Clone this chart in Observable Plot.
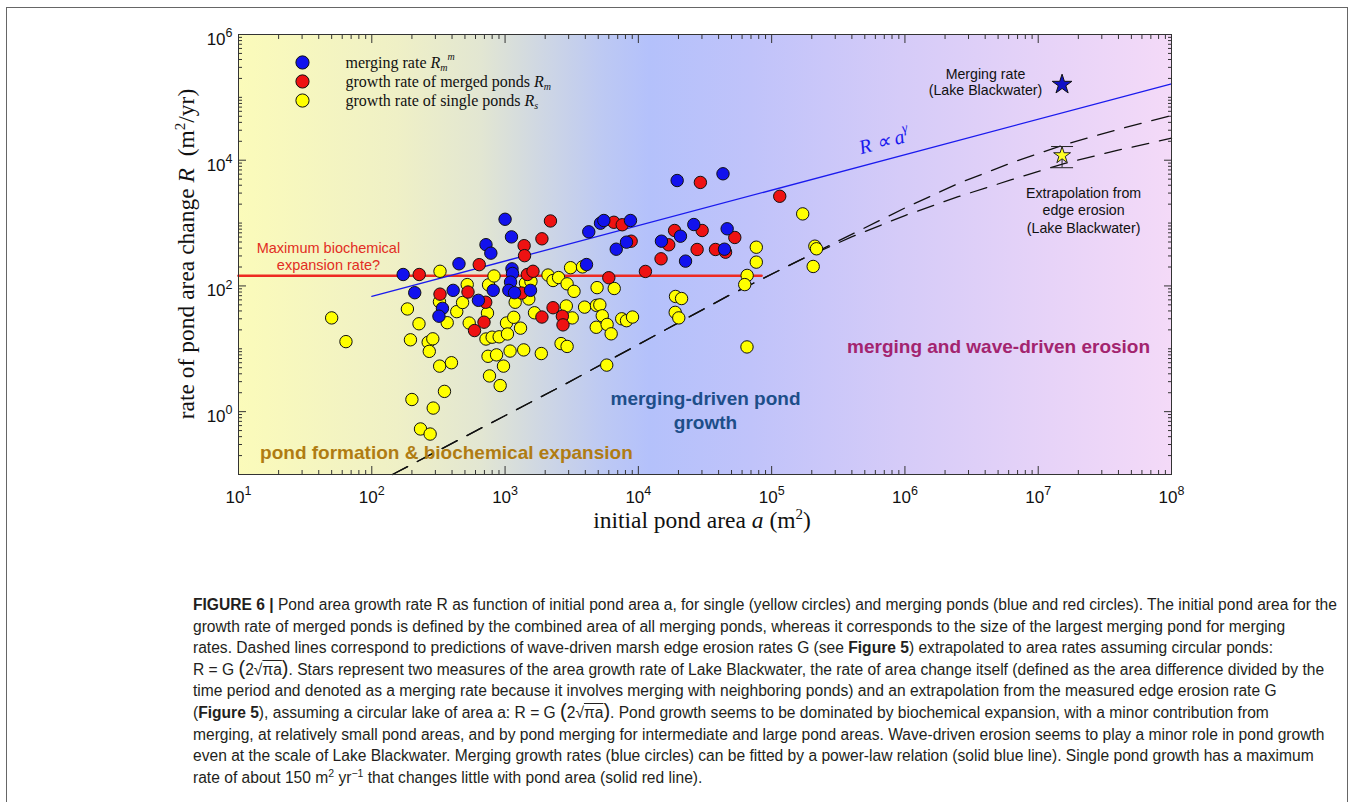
<!DOCTYPE html>
<html><head><meta charset="utf-8">
<script src="https://cdn.jsdelivr.net/npm/d3@7"></script>
<script src="https://cdn.jsdelivr.net/npm/@observablehq/plot@0.6"></script>
<style>
body{margin:0;background:#fff;}
#wrap{position:relative;width:1357px;height:802px;overflow:hidden;background:#fff;}
#border{position:absolute;left:6px;top:7px;width:1342px;height:820px;border:1.5px solid #666;box-sizing:border-box;}
#chart{position:absolute;left:0;top:0;}
#caption{position:absolute;left:193px;top:594px;font-family:"Liberation Sans",Arial,sans-serif;font-size:15.6px;line-height:21.6px;color:#231f20;white-space:nowrap;}
#caption div{height:21.6px;}
#caption .ov{text-decoration:overline;}
#caption .bp{font-size:20px;line-height:0;}
#caption sup{font-size:10.5px;line-height:0;}
</style></head><body>
<div id="wrap"><div id="border"></div><div id="chart"></div>
<div id="caption">
<div><b>FIGURE 6 |</b> Pond area growth rate R as function of initial pond area a, for single (yellow circles) and merging ponds (blue and red circles). The initial pond area for the</div>
<div>growth rate of merged ponds is defined by the combined area of all merging ponds, whereas it corresponds to the size of the largest merging pond for merging</div>
<div>rates. Dashed lines correspond to predictions of wave-driven marsh edge erosion rates G (see <b>Figure 5</b>) extrapolated to area rates assuming circular ponds:</div>
<div>R = G <span class="bp">(</span>2√<span class="ov">πa</span><span class="bp">)</span>. Stars represent two measures of the area growth rate of Lake Blackwater, the rate of area change itself (defined as the area difference divided by the</div>
<div>time period and denoted as a merging rate because it involves merging with neighboring ponds) and an extrapolation from the measured edge erosion rate G</div>
<div>(<b>Figure 5</b>), assuming a circular lake of area a: R = G <span class="bp">(</span>2√<span class="ov">πa</span><span class="bp">)</span>. Pond growth seems to be dominated by biochemical expansion, with a minor contribution from</div>
<div>merging, at relatively small pond areas, and by pond merging for intermediate and large pond areas. Wave-driven erosion seems to play a minor role in pond growth</div>
<div>even at the scale of Lake Blackwater. Merging growth rates (blue circles) can be fitted by a power-law relation (solid blue line). Single pond growth has a maximum</div>
<div>rate of about 150 m<sup>2</sup> yr<sup>−1</sup> that changes little with pond area (solid red line).</div>
</div>
</div>
<script>
// ---------- data ----------
const blueA = [172,210,451,719,782,408,339,319,631,815,1000,1117,1127,1137,1099,1067,1177,1552,4246,5200,5508,8730,4083,6823,8147,14900,20700,19550,43150,26060,22590,44260,46360];
const blueR = [152,78,225,453,332,85,44,33,59,85,1150,603,187,158,115,85,78,85,726,995,1099,1099,219,384,497,515,618,4753,6081,948,248,384,811];

const redA = [227,640,325,527,716,695,590,2190,1890,1390,1400,1470,1620,1330,1890,2290,2690,2720,6000,11300,6550,7570,8830,14800,16900,18700,30100,27600,37900,45100,52900,29200,115000];
const redR = [152,218,74,80,55,26.5,19.5,1080,562,437,303,152,171,77,32,45,33,24,135,170,1030,940,515,270,451,762,762,380,380,344,590,4430,2670];

const yellowA = [50,64,325,185,226,195,265,287,270,368,434,480,520,538,738,752,826,719,800,903,1025,1042,1162,1306,1191,1507,1422,1564,1663,2100,2290,2520,2920,3290,3100,3810,4900,6590,2880,3190,3950,4850,5140,5360,4830,5830,6250,7500,8150,9040,19000,21100,18900,20100,76700,76700,65500,62800,65300,171000,211000,217000,205000,5790,2630,2920,1870,1380,1090,745,863,973,764,919,323,396,200,351,289,232,274,322];
const yellowR = [31,13,171,43,25,13.9,12.7,14.4,9.1,26,39,54.5,105,25.7,37,104,144,14.3,15.3,15.5,25.7,17.2,31.7,21.3,55,62,111,118,37.4,149,122,136,108,82,195,201,94,91,48,31,46,49,50,33.5,22,24.4,17.3,30,28,32,68,63,38,31,413,239,147,105,10.7,1400,429,390,204,5.5,12.1,10.9,8.4,9.6,9.2,7.6,8.0,5.3,3.7,2.6,5.3,6.0,1.56,2.1,1.14,0.53,0.44,56];

// power-law fit (blue) and maximum biochemical rate (red)
const fitA = [100, 1e8];
const fitR = [68, 164000];
const maxRateA = [10, 84000];
const maxRateR = [145, 145];

// wave-driven erosion predictions (dashed)
const dashUpperA = [143, 2700, 47400, 158500, 398000, 1e6, 2.51e6, 6.31e6, 1.585e7, 3.98e7, 1e8];
const dashUpperR = [0.1, 2.6, 70, 251, 661, 1738, 4266, 9120, 17800, 30900, 51300];
const dashLowerA = [143, 2700, 47400, 158500, 398000, 1e6, 2.51e6, 6.31e6, 1.585e7, 3.98e7, 1e8];
const dashLowerR = [0.1, 2.6, 70, 251, 603, 1318, 2630, 4900, 8910, 14450, 22400];

// Lake Blackwater stars
const starA = 1.51e7;
const mergeStarR = 1.6e5;
const erosionStarR = 1.19e4;
const erosionErr = [7.6e3, 1.65e4];

// legend
const legendNames = ["merging rate", "growth rate of merged ponds", "growth rate of single ponds"];
const legendSub = ["m", "m", "s"];
const legendSup = ["m", "", ""];
const legendColors = ["#1212ee", "#ee1212", "#ffff00"];
const legendDotA = 30.2;
const legendTextA = 63.5;
const legendR = [3.59e5, 1.79e5, 8.9e4];

// annotations
const maxNote = "Maximum biochemical\nexpansion rate?"; const maxNoteA = 47.3, maxNoteR = 299;
const mergeNote = "Merging rate\n(Lake Blackwater)"; const mergeNoteA = 4.02e6, mergeNoteR = 1.79e5;
const erosionNote = "Extrapolation from\nedge erosion\n(Lake Blackwater)"; const erosionNoteA = 2.19e7, erosionNoteR = 1644;
const fitNote = "R ∝ a"; const fitNoteSup = "γ"; const fitNoteA = 7.0e5, fitNoteR = 1.99e4;
const regionLabels = ["pond formation & biochemical expansion", "merging-driven pond\ngrowth", "merging and wave-driven erosion"];
const regionA = [363, 31900, 5.04e6];
const regionR = [0.232, 1.08, 11.3];
const regionColors = ["#b07c12", "#1d4e89", "#a3246f"];

// ticks
const xTickValues = [10, 100, 1000, 10000, 1e5, 1e6, 1e7, 1e8];
const yTickValues = [1, 100, 1e4, 1e6];
const yOtherDecades = [0.1, 10, 1000, 1e5];
const xMinor = d3.range(1, 8).flatMap(e => d3.range(2, 10).map(m => m * 10 ** e));
const yMinor = d3.range(-1, 6).flatMap(e => d3.range(2, 10).map(m => +(m * 10 ** e).toPrecision(3)));

// ---------- build ----------
const rows = (A, R) => A.map((a, i) => ({a, R: R[i]}));
const supFmt = d => "10^" + Math.round(Math.log10(d));
const capSymbol = {draw(ctx, size) { const r = Math.sqrt(size / Math.PI); ctx.moveTo(-r, 0); ctx.lineTo(r, 0); }};
const sans = "'Liberation Sans', Arial, sans-serif";
const serif = "'Liberation Serif', 'Times New Roman', serif";
const tickStroke = "#333";

const chart = Plot.plot({
  width: 1357, height: 545,
  marginLeft: 238, marginRight: 186, marginTop: 34, marginBottom: 71,
  x: {type: "log", domain: [10, 1e8], label: null},
  y: {type: "log", domain: [0.1, 1e6], label: null},
  style: {background: "transparent", fontFamily: sans, fontSize: "13px", color: "#111"},
  marks: [
    Plot.frame({fill: "url(#bg)", stroke: "none"}),
    // ticks (inward, all sides)
    Plot.axisX(xTickValues, {anchor: "bottom", tickSize: -8, tickFormat: () => "", stroke: tickStroke, label: null}),
    Plot.axisX(xMinor, {anchor: "bottom", tickSize: -4, tickFormat: () => "", stroke: tickStroke, label: null}),
    Plot.axisX(xTickValues, {anchor: "top", tickSize: -8, tickFormat: () => "", stroke: tickStroke, label: null}),
    Plot.axisX(xMinor, {anchor: "top", tickSize: -4, tickFormat: () => "", stroke: tickStroke, label: null}),
    Plot.axisY(yTickValues, {anchor: "left", tickSize: -8, tickFormat: () => "", stroke: tickStroke, label: null}),
    Plot.axisY(yOtherDecades.concat(yMinor), {anchor: "left", tickSize: -4, tickFormat: () => "", stroke: tickStroke, label: null}),
    Plot.axisY(yTickValues, {anchor: "right", tickSize: -8, tickFormat: () => "", stroke: tickStroke, label: null}),
    Plot.axisY(yOtherDecades.concat(yMinor), {anchor: "right", tickSize: -4, tickFormat: () => "", stroke: tickStroke, label: null}),
    // tick labels
    Plot.axisX(xTickValues, {anchor: "bottom", tickSize: 0, tickPadding: 16, tickFormat: supFmt, fontSize: 17, label: null}),
    Plot.axisY(yTickValues, {anchor: "left", tickSize: 0, tickPadding: 6, tickFormat: supFmt, fontSize: 17, dy: 5, label: null}),
    // lines
    Plot.line(rows(dashUpperA, dashUpperR), {x: "a", y: "R", stroke: "#111", strokeWidth: 1.3, strokeDasharray: "17,11"}),
    Plot.line(rows(dashLowerA, dashLowerR), {x: "a", y: "R", stroke: "#111", strokeWidth: 1.3, strokeDasharray: "17,11"}),
    Plot.line(rows(maxRateA, maxRateR), {x: "a", y: "R", stroke: "#ee2a22", strokeWidth: 2.6}),
    Plot.line(rows(fitA, fitR), {x: "a", y: "R", stroke: "#1a1aee", strokeWidth: 1.3}),
    // region labels
    ...regionLabels.map((t, i) => Plot.text([t], {x: [regionA[i]], y: [regionR[i]], text: d => d, fill: regionColors[i], fontSize: 19, fontWeight: "bold", lineHeight: 1.26})),
    // points
    Plot.dot(rows(yellowA, yellowR), {x: "a", y: "R", r: 6.2, fill: "#ffff00", stroke: "#111", strokeWidth: 1}),
    Plot.dot(rows(redA, redR), {x: "a", y: "R", r: 6.2, fill: "#ee1212", stroke: "#111", strokeWidth: 1}),
    Plot.dot(rows(blueA, blueR), {x: "a", y: "R", r: 6.2, fill: "#1212ee", stroke: "#111", strokeWidth: 1}),
    // stars and error bar
    Plot.ruleX([starA], {x: d => d, y1: erosionErr[0], y2: erosionErr[1], stroke: "#222", strokeWidth: 1}),
    Plot.dot(erosionErr, {x: () => starA, y: d => d, symbol: capSymbol, r: 11, stroke: "#222", strokeWidth: 1, fill: "none"}),
    Plot.dot([erosionStarR], {x: () => starA, y: d => d, symbol: "star", r: 5.3, fill: "#ffff22", stroke: "#222", strokeWidth: 1}),
    Plot.dot([mergeStarR], {x: () => starA, y: d => d, symbol: "star", r: 6.2, fill: "#1010c8", stroke: "#111", strokeWidth: 1}),
    // annotations
    Plot.text([maxNote], {x: [maxNoteA], y: [maxNoteR], text: d => d, fill: "#e22d23", fontSize: 14.5, lineHeight: 1.2}),
    Plot.text([mergeNote], {x: [mergeNoteA], y: [mergeNoteR], text: d => d, fill: "#111", fontSize: 14.2, lineHeight: 1.15}),
    Plot.text([erosionNote], {x: [erosionNoteA], y: [erosionNoteR], text: d => d, fill: "#111", fontSize: 14.2, lineHeight: 1.24}),
    Plot.text([fitNote], {x: [fitNoteA], y: [fitNoteR], text: d => d, fill: "#1a1aee", fontSize: 20, fontFamily: serif, fontStyle: "italic", rotate: -15}),
    // legend
    Plot.dot(legendR, {x: () => legendDotA, y: d => d, r: 6.6, fill: (d, i) => legendColors[i], stroke: "#111", strokeWidth: 1}),
    Plot.text(legendNames, {x: () => legendTextA, y: (d, i) => legendR[i], text: d => d, textAnchor: "start", fontFamily: serif, fontSize: 16, fill: "#111"}),
    Plot.frame({stroke: "#333", strokeWidth: 1})
  ]
});

document.getElementById("chart").appendChild(chart);
const svg = d3.select(chart);

// background gradient
const grad = svg.insert("defs", ":first-child").append("linearGradient").attr("id", "bg")
  .attr("x1", 0).attr("x2", 1).attr("y1", 0).attr("y2", 0);
[[0, "#fbfbba"], [0.17, "#eff0c6"], [0.26, "#e2e6d2"], [0.32, "#d0d8e2"], [0.39, "#bdc9f3"], [0.44, "#b4c1fb"],
 [0.55, "#c0c3fa"], [0.71, "#d5cbf8"], [0.87, "#e7d3f8"], [1, "#f4daf8"]]
  .forEach(([o, c]) => grad.append("stop").attr("offset", o).attr("stop-color", c));

// superscript tick labels
svg.selectAll('g[aria-label="x-axis tick label"] text, g[aria-label="y-axis tick label"] text').each(function () {
  const m = this.textContent.match(/^10\^(-?\d+)$/);
  if (!m) return;
  this.textContent = "";
  const s = d3.select(this);
  s.append("tspan").text("10");
  s.append("tspan").attr("dy", "-0.62em").attr("font-size", "12.5px").text(m[1]);
});

// legend math and fit-note superscript (matched by their text)
svg.selectAll("text").each(function () {
  const t = this.textContent;
  const i = legendNames.indexOf(t);
  const s = d3.select(this);
  if (i >= 0) {
    s.append("tspan").text(" ");
    s.append("tspan").attr("font-style", "italic").text("R");
    s.append("tspan").attr("font-style", "italic").attr("font-size", "10px").attr("dy", "0.3em").text(legendSub[i]);
    if (legendSup[i]) {
      s.append("tspan").attr("font-style", "italic").attr("font-size", "10px").attr("dy", "-1.1em").text(legendSup[i]);
    }
  } else if (t === fitNote) {
    s.append("tspan").attr("font-size", "14px").attr("dy", "-0.7em").text(fitNoteSup);
  }
});

// axis titles
const xt = svg.append("text").attr("x", 702).attr("y", 528).attr("text-anchor", "middle")
  .attr("font-family", serif).attr("font-size", 23.5).attr("fill", "#111");
xt.append("tspan").text("initial pond area ");
xt.append("tspan").attr("font-style", "italic").text("a");
xt.append("tspan").text(" (m");
xt.append("tspan").attr("font-size", 15).attr("dy", "-0.6em").text("2");
xt.append("tspan").attr("dy", "0.4em").text(")");

const yt = svg.append("text").attr("transform", "translate(194,254) rotate(-90)").attr("text-anchor", "middle")
  .attr("font-family", serif).attr("font-size", 23.5).attr("fill", "#111");
yt.append("tspan").text("rate of pond area change ");
yt.append("tspan").attr("font-style", "italic").text("R");
yt.append("tspan").text("  (m");
yt.append("tspan").attr("font-size", 15).attr("dy", "-0.6em").text("2");
yt.append("tspan").attr("dy", "0.4em").text("/yr)");
</script>
</body></html>
